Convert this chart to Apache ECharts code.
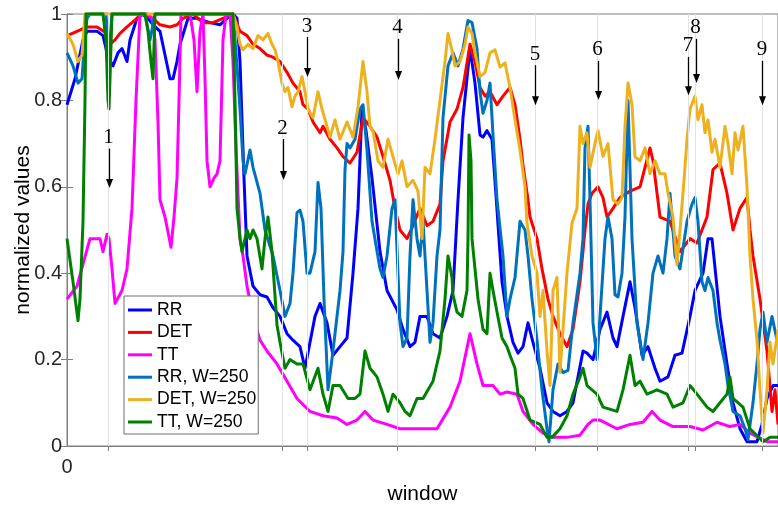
<!DOCTYPE html>
<html>
<head>
<meta charset="utf-8">
<title>normalized values</title>
<script src="https://cdn.jsdelivr.net/npm/echarts@6/dist/echarts.min.js"></script>
<style>
  html, body { margin: 0; padding: 0; background: #fff; }
  #chart { width: 778px; height: 506px; }
</style>
</head>
<body>
<div id="chart"></div>
<script>
// ---- data: [window, normalized value] ----
const windowMax = 711;
const yTicks = [0, 0.2, 0.4, 0.6, 0.8, 1];
const xTickLabels = [0];

const rr = [[0,.79],[8,.85],[16,.94],[20,.96],[30,.96],[36,.95],[41,.90],[46,.88],[51,.91],[55,.92],[60,.89],[63,.94],[70,.99],[75,1],[81,.99],[86,.975],[93,.96],[98,.905],[103,.85],[106,.85],[110,.89],[113,.93],[121,.99],[130,.99],[143,.98],[153,.975],[160,.99],[166,1],[170,.99],[173,.89],[177,.62],[180,.44],[186,.37],[193,.35],[200,.345],[206,.32],[213,.30],[220,.26],[226,.245],[233,.23],[238,.18],[243,.24],[248,.30],[253,.33],[260,.285],[266,.21],[273,.23],[280,.25],[286,.40],[291,.55],[295,.78],[299,.73],[305,.62],[313,.45],[320,.36],[330,.315],[336,.27],[343,.23],[348,.24],[353,.30],[360,.30],[366,.26],[373,.25],[380,.30],[386,.36],[391,.57],[396,.76],[403,.92],[408,.84],[413,.72],[416,.715],[420,.73],[425,.71],[429,.58],[435,.38],[440,.30],[446,.24],[451,.215],[456,.23],[461,.285],[466,.24],[473,.18],[480,.10],[486,.08],[493,.07],[500,.08],[506,.10],[511,.16],[516,.22],[520,.215],[526,.20],[533,.27],[540,.31],[546,.25],[550,.23],[556,.30],[563,.38],[568,.32],[575,.21],[581,.23],[588,.18],[593,.15],[601,.16],[608,.21],[615,.215],[623,.30],[628,.36],[636,.40],[641,.48],[645,.48],[653,.30],[660,.19],[666,.10],[673,.04],[680,.01],[690,.01],[695,.05],[700,.11],[706,.14],[711,.14]];

const det = [[0,.95],[10,.96],[20,.97],[30,.97],[40,.955],[43,.93],[48,.94],[53,.955],[60,.97],[70,.99],[76,1],[86,.99],[93,.975],[103,.97],[110,.975],[116,.99],[126,1],[136,.98],[146,.98],[156,.99],[166,1],[173,.96],[180,.95],[186,.93],[193,.92],[200,.905],[206,.90],[213,.89],[220,.865],[226,.84],[233,.82],[236,.79],[241,.78],[246,.75],[253,.725],[256,.74],[263,.71],[270,.69],[276,.67],[283,.655],[290,.68],[296,.76],[303,.74],[310,.715],[316,.67],[323,.615],[328,.55],[333,.50],[340,.48],[346,.51],[353,.55],[360,.51],[366,.52],[373,.56],[376,.66],[383,.75],[390,.78],[396,.83],[403,.93],[408,.89],[413,.83],[418,.81],[423,.82],[430,.79],[436,.81],[443,.83],[448,.79],[453,.71],[456,.65],[461,.57],[463,.53],[470,.48],[475,.41],[481,.34],[486,.30],[493,.26],[500,.23],[506,.27],[513,.38],[518,.50],[521,.56],[525,.585],[531,.60],[536,.575],[540,.53],[546,.55],[553,.575],[563,.59],[573,.60],[583,.69],[586,.66],[593,.53],[603,.52],[613,.45],[623,.48],[630,.47],[640,.53],[646,.64],[653,.655],[660,.585],[666,.50],[673,.55],[680,.575],[683,.50],[686,.44],[693,.34],[700,.22],[705,.08],[708,.13],[711,.05]];

const tt = [[0,.34],[10,.37],[23,.48],[33,.48],[36,.45],[40,.49],[42,.48],[45,.41],[48,.33],[55,.36],[60,.41],[65,.55],[69,.80],[73,1],[81,1],[85,.99],[88,.94],[91,.75],[93,.57],[98,.53],[104,.46],[107,.53],[110,.62],[112,.80],[114,1],[123,1],[127,.94],[130,.82],[133,.96],[136,1],[138,.85],[140,.66],[143,.60],[147,.62],[150,.63],[153,.66],[156,.94],[159,1],[163,1],[166,.89],[169,.69],[173,.48],[176,.44],[180,.37],[186,.30],[193,.245],[200,.22],[210,.19],[220,.15],[230,.11],[243,.08],[256,.07],[270,.065],[280,.05],[290,.06],[298,.08],[306,.06],[320,.05],[333,.04],[346,.04],[356,.04],[370,.04],[383,.09],[393,.15],[403,.26],[410,.19],[416,.14],[426,.14],[433,.12],[440,.125],[450,.12],[456,.08],[466,.05],[476,.03],[486,.02],[500,.02],[513,.025],[521,.05],[526,.06],[533,.06],[550,.04],[563,.05],[576,.055],[585,.08],[593,.06],[606,.045],[623,.045],[636,.037],[650,.055],[663,.045],[673,.05],[683,.03],[700,.01],[711,.01]];

const rrW250 = [[0,.91],[6,.88],[11,.84],[15,.85],[17,.92],[20,.99],[23,1],[39,1],[42,.905],[45,1],[78,1],[83,.94],[88,1],[166,1],[170,.88],[173,.78],[176,.66],[178,.63],[183,.685],[186,.645],[193,.585],[198,.50],[206,.44],[213,.36],[218,.30],[223,.33],[226,.40],[230,.54],[233,.546],[236,.52],[240,.40],[243,.40],[248,.45],[251,.61],[254,.55],[257,.34],[261,.13],[266,.22],[273,.36],[276,.45],[278,.64],[280,.70],[283,.69],[288,.71],[293,.78],[296,.79],[300,.685],[305,.52],[313,.41],[316,.39],[320,.44],[325,.55],[328,.57],[333,.285],[336,.23],[340,.25],[343,.44],[346,.57],[350,.48],[353,.44],[356,.52],[360,.36],[363,.24],[366,.285],[370,.44],[373,.50],[376,.76],[381,.88],[386,.91],[391,.88],[396,.92],[401,.985],[405,.98],[410,.92],[413,.82],[416,.77],[420,.80],[423,.84],[426,.72],[430,.57],[436,.44],[440,.30],[443,.34],[448,.39],[453,.52],[458,.50],[461,.44],[465,.34],[470,.245],[475,.13],[480,.04],[482,.01],[486,.13],[491,.19],[496,.17],[501,.175],[506,.285],[513,.40],[516,.48],[518,.69],[521,.74],[523,.57],[526,.285],[530,.20],[533,.30],[538,.48],[541,.53],[545,.48],[548,.35],[551,.345],[555,.40],[558,.53],[561,.80],[565,.48],[570,.285],[576,.20],[581,.285],[586,.40],[591,.44],[596,.40],[600,.48],[603,.585],[608,.44],[613,.41],[620,.52],[625,.56],[628,.575],[631,.52],[635,.38],[638,.36],[641,.39],[646,.36],[650,.285],[653,.245],[658,.19],[661,.14],[666,.08],[673,.07],[678,.04],[681,.015],[686,.10],[690,.19],[693,.27],[696,.31],[700,.24],[705,.30],[710,.245]];

const detW250 = [[0,.955],[6,.93],[11,.89],[15,.905],[18,1],[166,1],[170,.97],[173,.93],[176,.917],[181,.93],[186,.92],[191,.95],[196,.94],[201,.955],[205,.93],[208,.917],[211,.89],[215,.84],[218,.82],[221,.83],[225,.785],[228,.81],[231,.82],[235,.855],[238,.82],[241,.78],[246,.76],[251,.82],[255,.78],[260,.74],[263,.715],[268,.755],[273,.71],[280,.75],[286,.715],[291,.785],[296,.89],[300,.82],[303,.74],[306,.73],[311,.66],[316,.645],[321,.71],[326,.67],[331,.63],[335,.66],[340,.60],[346,.615],[351,.59],[355,.48],[358,.645],[363,.63],[368,.71],[373,.80],[378,.89],[381,.955],[385,.915],[388,.88],[393,.89],[398,.93],[401,.97],[405,.955],[408,.91],[413,.855],[418,.865],[423,.91],[428,.917],[433,.877],[438,.887],[443,.83],[448,.755],[453,.685],[458,.60],[460,.516],[465,.44],[470,.40],[473,.30],[476,.36],[480,.22],[483,.14],[486,.36],[490,.39],[493,.17],[496,.27],[500,.40],[505,.516],[510,.55],[513,.74],[516,.70],[520,.725],[523,.645],[528,.70],[531,.73],[536,.67],[541,.70],[546,.57],[551,.56],[555,.575],[558,.74],[561,.84],[565,.79],[568,.67],[573,.66],[578,.69],[583,.63],[588,.66],[593,.63],[598,.63],[601,.585],[606,.53],[610,.42],[613,.50],[617,.615],[620,.71],[623,.78],[628,.81],[631,.755],[635,.79],[638,.725],[641,.755],[645,.68],[648,.71],[653,.645],[658,.74],[661,.70],[665,.63],[668,.725],[671,.685],[676,.74],[680,.60],[683,.44],[686,.34],[690,.245],[693,.13],[696,.03],[700,.13],[703,.24],[706,.19],[711,.27]];

const ttW250 = [[0,.48],[3,.43],[6,.38],[11,.29],[13,.34],[16,.52],[18,.80],[19,1],[36,1],[39,.94],[41,.80],[42,.78],[43,.85],[45,1],[78,1],[81,.96],[84,.89],[86,.85],[88,1],[166,1],[168,.80],[170,.55],[173,.48],[175,.45],[180,.50],[183,.48],[186,.50],[190,.48],[195,.41],[198,.48],[201,.53],[205,.45],[210,.28],[213,.24],[218,.18],[223,.20],[230,.19],[236,.19],[243,.13],[251,.18],[256,.12],[261,.08],[266,.14],[273,.14],[281,.11],[288,.11],[293,.12],[298,.22],[303,.18],[310,.16],[316,.12],[321,.08],[326,.12],[333,.10],[338,.08],[343,.07],[350,.11],[356,.11],[366,.15],[373,.22],[378,.34],[381,.44],[385,.39],[386,.35],[390,.31],[395,.30],[400,.36],[401,.48],[402,.72],[404,.66],[405,.48],[411,.34],[416,.27],[420,.26],[423,.40],[426,.36],[430,.31],[435,.25],[440,.23],[443,.21],[448,.18],[451,.12],[456,.11],[463,.06],[473,.05],[480,.02],[485,.02],[493,.04],[500,.07],[506,.12],[513,.16],[516,.18],[520,.14],[530,.12],[536,.09],[550,.08],[556,.13],[563,.21],[568,.14],[573,.15],[580,.12],[590,.13],[600,.12],[606,.09],[616,.10],[623,.14],[630,.12],[640,.09],[646,.08],[653,.10],[660,.12],[663,.16],[666,.11],[676,.09],[683,.04],[696,.01],[703,.02],[711,.02]];

// marked windows: position, label, label height and arrow tip (in value units)
const events = [41.5, 215.5, 240, 330.5, 468, 530.5, 621, 628.5, 695];
const eventLabels = ['1', '2', '3', '4', '5', '6', '7', '8', '9'];
const eventLabelLevel = [0.714, 0.736, 0.972, 0.968, 0.907, 0.917, 0.926, 0.968, 0.917];
const eventArrowTip = [0.597, 0.616, 0.854, 0.847, 0.789, 0.801, 0.812, 0.840, 0.789];

const seriesNames = ['RR', 'DET', 'TT', 'RR, W=250', 'DET, W=250', 'TT, W=250'];
const seriesData = [rr, det, tt, rrW250, detW250, ttW250];
const seriesColors = ['#0000ff', '#ff0000', '#ff00ff', '#0072bd', '#edb120', '#008000'];

// ---- chart ----
const FONT = '"Liberation Sans", Arial, Helvetica, sans-serif';
const AXIS_COLOR = '#7f7f7f';
const TEXT_COLOR = '#262626';

const chart = echarts.init(document.getElementById('chart'), null, { renderer: 'canvas' });

function renderEvent(params, api) {
  const i = params.dataIndex;
  const top = api.coord([api.value(0), api.value(1)]);
  const tip = api.coord([api.value(0), api.value(2)]);
  const x = Math.round(top[0]) + 0.5;
  const y0 = top[1] + 11;
  return {
    type: 'group',
    children: [
      {
        type: 'text',
        style: {
          text: eventLabels[i], x: top[0], y: top[1],
          align: 'center', verticalAlign: 'middle',
          font: '21px "Liberation Serif", "Times New Roman", serif',
          fill: '#000'
        }
      },
      {
        type: 'line',
        shape: { x1: x, y1: y0, x2: x, y2: tip[1] - 6 },
        style: { stroke: '#000', lineWidth: 1.3 }
      },
      {
        type: 'polygon',
        shape: { points: [[x - 3.5, tip[1] - 9], [x + 3.5, tip[1] - 9], [x, tip[1]]] },
        style: { fill: '#000' }
      }
    ]
  };
}

const lineSeries = seriesNames.map((name, k) => ({
  name: name,
  type: 'line',
  data: seriesData[k],
  showSymbol: false,
  symbol: 'none',
  clip: false,
  z: 3,
  lineStyle: { color: seriesColors[k], width: 3, join: 'round' },
  itemStyle: { color: seriesColors[k] },
  emphasis: { disabled: true }
}));

const option = {
  animation: false,
  backgroundColor: '#fff',
  textStyle: { fontFamily: FONT },
  grid: {
    left: 67, top: 14, width: 711, height: 432,
    containLabel: false,
    outerBoundsMode: 'none',
    show: true, borderColor: AXIS_COLOR, borderWidth: 1, backgroundColor: '#fff'
  },
  legend: {
    data: seriesNames,
    orient: 'vertical',
    left: 124, top: 296,
    icon: 'rect',
    itemWidth: 24, itemHeight: 3,
    itemGap: 4.4,
    padding: [5, 2, 3, 4],
    backgroundColor: '#fff',
    borderColor: '#6f6f6f',
    borderWidth: 1,
    borderRadius: 0,
    z: 20,
    textStyle: { fontFamily: FONT, fontSize: 17.6, lineHeight: 18, color: '#000' },
    selectedMode: false
  },
  xAxis: [
    {
      type: 'value', min: 0, max: windowMax, interval: windowMax,
      name: 'window', nameLocation: 'middle', nameGap: 38,
      nameMoveOverlap: false,
      nameTextStyle: { fontFamily: FONT, fontSize: 21, color: '#000' },
      axisLine: { show: true, lineStyle: { color: AXIS_COLOR } },
      axisTick: { show: true, inside: true, length: 5, lineStyle: { color: AXIS_COLOR }, customValues: [0].concat(events) },
      axisLabel: { fontFamily: FONT, fontSize: 20, color: TEXT_COLOR, margin: 11, customValues: xTickLabels, formatter: v => String(v) },
      splitLine: { show: false }
    },
    {
      type: 'value', min: 0, max: windowMax, position: 'top',
      axisLine: { show: true, lineStyle: { color: AXIS_COLOR } },
      axisTick: { show: true, inside: true, length: 5, lineStyle: { color: AXIS_COLOR }, customValues: events },
      axisLabel: { show: false },
      splitLine: { show: false }
    }
  ],
  yAxis: [
    {
      type: 'value', min: 0, max: 1, interval: 0.2,
      name: 'normalized values', nameLocation: 'middle', nameGap: 33,
      nameMoveOverlap: false,
      nameTextStyle: { fontFamily: FONT, fontSize: 21, color: '#000' },
      axisLine: { show: true, lineStyle: { color: AXIS_COLOR } },
      axisTick: { show: true, inside: true, length: 6, lineStyle: { color: AXIS_COLOR }, customValues: yTicks },
      axisLabel: { fontFamily: FONT, fontSize: 20, color: TEXT_COLOR, margin: 5, customValues: yTicks, formatter: v => String(Math.round(v * 10) / 10) },
      splitLine: { show: false }
    },
    {
      type: 'value', min: 0, max: 1, interval: 0.2, position: 'right',
      axisLine: { show: true, lineStyle: { color: AXIS_COLOR } },
      axisTick: { show: true, inside: true, length: 6, lineStyle: { color: AXIS_COLOR } },
      axisLabel: { show: false },
      splitLine: { show: false }
    }
  ],
  series: [
    {
      // grid lines through the marked windows
      type: 'line',
      data: [],
      z: 1,
      silent: true,
      markLine: {
        silent: true,
        symbol: 'none',
        label: { show: false },
        lineStyle: { color: '#e2e2e2', width: 1, type: 'solid' },
        emphasis: { disabled: true },
        data: events.map(v => ({ xAxis: v }))
      }
    }
  ].concat(lineSeries).concat([
    {
      type: 'custom',
      name: 'events',
      z: 10,
      clip: false,
      silent: true,
      renderItem: renderEvent,
      data: events.map((x, i) => [x, eventLabelLevel[i], eventArrowTip[i]])
    }
  ])
};

chart.setOption(option);
</script>
</body>
</html>
